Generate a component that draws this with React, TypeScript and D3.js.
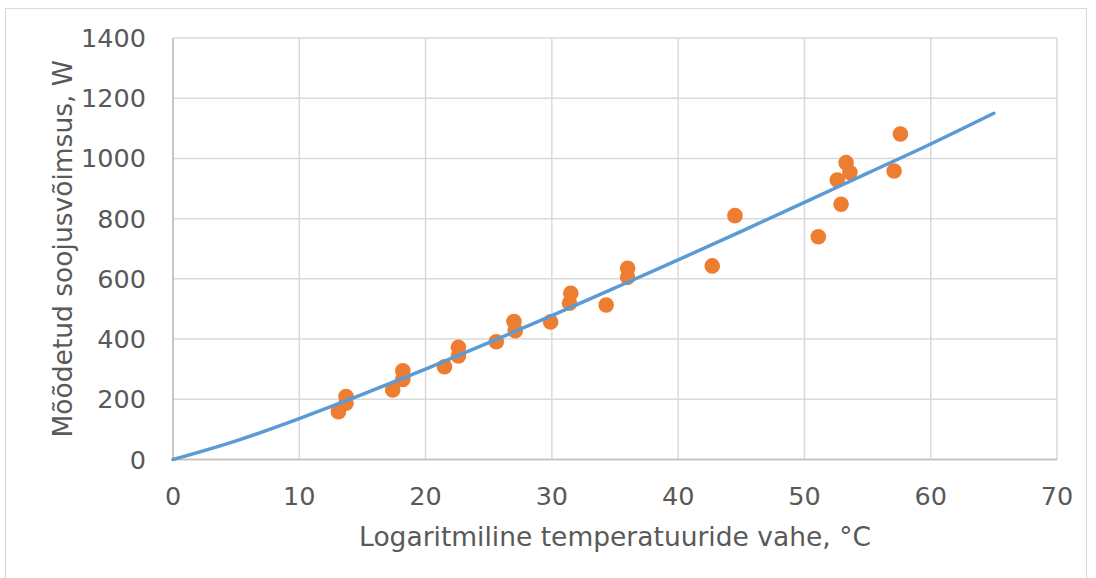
import React from 'react'
import * as d3 from 'd3'

const W = 1096
const H = 578

// mõõdetud punktid (ΔT, W)
const measuredDT = [13.1, 13.7, 13.7, 17.4, 18.2, 18.2, 21.5, 22.6, 22.6, 25.6, 27.1, 27.0, 29.9, 31.4, 31.5, 34.3, 36.0, 36.0, 42.7, 44.5, 51.1, 52.9, 52.6, 53.3, 53.6, 57.1, 57.6]
const measuredP = [159, 187, 209, 231, 266, 295, 308, 344, 373, 391, 428, 458, 457, 519, 552, 513, 605, 635, 643, 810, 740, 848, 928, 986, 953, 958, 1081]

// arvutuslik kõver
const curveDT = [0, 5, 10, 15, 20, 25, 30, 35, 40, 45, 50, 55, 60, 65]
const curveP = [0, 62, 136, 216, 300, 388, 478, 570, 663, 758, 854, 951, 1048, 1150]

const xTicks = [0, 10, 20, 30, 40, 50, 60, 70]
const yTicks = [0, 200, 400, 600, 800, 1000, 1200, 1400]

const xTitle = 'Logaritmiline temperatuuride vahe, °C'
const yTitle = 'Mõõdetud soojusvõimsus, W'

const margin = { left: 173, right: 1057, top: 38, bottom: 459.5 }
const font = "'DejaVu Sans', Verdana, sans-serif"
const textColor = '#595959'

export default function App() {
  const x = d3.scaleLinear().domain([0, 70]).range([margin.left, margin.right])
  const y = d3.scaleLinear().domain([0, 1400]).range([margin.bottom, margin.top])

  const curve = d3.line<number>()
    .x((d) => x(d))
    .y((_, i) => y(curveP[i]))
    .curve(d3.curveMonotoneX)

  return (
    <svg width={W} height={H} style={{ position: 'absolute', left: 0, top: 0, background: '#fff' }}>
      <rect x={5.5} y={8.5} width={1081} height={600} fill="#fff" stroke="#d9d9d9" strokeWidth={1} />

      {/* grid */}
      <g stroke="#d9d9d9" strokeWidth={1.5}>
        {yTicks.map((t) => (
          <line key={'y' + t} x1={margin.left} x2={margin.right} y1={y(t)} y2={y(t)} />
        ))}
        {xTicks.map((t) => (
          <line key={'x' + t} x1={x(t)} x2={x(t)} y1={margin.top} y2={margin.bottom} />
        ))}
      </g>
      <g stroke="#bfbfbf" strokeWidth={1.5}>
        <line x1={margin.left} x2={margin.right} y1={margin.bottom} y2={margin.bottom} />
        <line x1={margin.left} x2={margin.left} y1={margin.top} y2={margin.bottom} />
      </g>

      {/* tick labels */}
      <g fontFamily={font} fontSize={25.5} fill={textColor}>
        {yTicks.map((t) => (
          <text key={'yl' + t} x={margin.left - 27} y={y(t)} textAnchor="end" dominantBaseline="central">{t}</text>
        ))}
        {xTicks.map((t) => (
          <text key={'xl' + t} x={x(t)} y={margin.bottom + 36} textAnchor="middle" dominantBaseline="central">{t}</text>
        ))}
      </g>

      {/* axis titles */}
      <text x={(margin.left + margin.right) / 2} y={536} textAnchor="middle" dominantBaseline="central"
        fontFamily={font} fontSize={26.5} fill={textColor}>{xTitle}</text>
      <text transform={`translate(62,${(margin.top + margin.bottom) / 2}) rotate(-90)`} textAnchor="middle" dominantBaseline="central"
        fontFamily={font} fontSize={26.5} fill={textColor}>{yTitle}</text>

      {/* points */}
      <g fill="#ed7d31">
        {measuredDT.map((d, i) => (
          <circle key={i} cx={x(d)} cy={y(measuredP[i])} r={7.8} />
        ))}
      </g>

      {/* calculated curve */}
      <path d={curve(curveDT) || ''} fill="none" stroke="#5b9bd5" strokeWidth={3.5} strokeLinecap="round" />
    </svg>
  )
}
